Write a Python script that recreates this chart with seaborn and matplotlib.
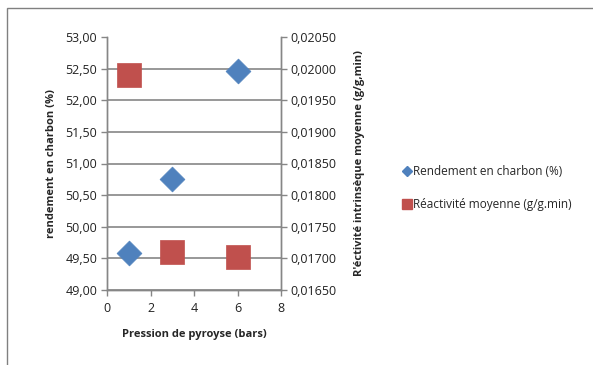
import matplotlib
matplotlib.use("Agg")
import matplotlib.pyplot as plt
import seaborn as sns
import pandas as pd
from matplotlib.ticker import FuncFormatter
from matplotlib.lines import Line2D

pression = [1, 3, 6]
rendement = [49.59, 50.75, 52.47]
reactivite = [0.01990, 0.01710, 0.01702]
xticks = [0, 2, 4, 6, 8]
yticks_left = [49.0, 49.5, 50.0, 50.5, 51.0, 51.5, 52.0, 52.5, 53.0]
yticks_right = [0.0165, 0.0170, 0.0175, 0.0180, 0.0185, 0.0190, 0.0195, 0.0200, 0.0205]

sns.set_theme(style="white")
plt.rcParams['font.family'] = ['Open Sans', 'DejaVu Sans']

df = pd.DataFrame({"pression": pression, "rendement": rendement, "reactivite": reactivite})

fig = plt.figure(figsize=(5.93, 3.65), dpi=100)
fig.patches.append(plt.Rectangle((7/593, -0.1), 1.0, 1 - 8/365 + 0.1, transform=fig.transFigure,
                                 fill=False, edgecolor="#808080", linewidth=1.0))
ax = fig.add_axes([107/593, 1-290/365, (281-107)/593, (290-37)/365])
ax2 = ax.twinx()

blue = "#4F81BD"
red = "#C0504D"
gcol = "#868686"

sns.scatterplot(data=df, x="pression", y="rendement", ax=ax, marker="D", s=160, color=blue,
                edgecolor=blue, linewidth=0.5, zorder=3)
sns.scatterplot(data=df, x="pression", y="reactivite", ax=ax2, marker="s", s=280, color=red,
                edgecolor=red, linewidth=0.5, zorder=3)

ax.set_xlim(0, 8)
ax.set_ylim(49, 53)
ax2.set_ylim(0.0165, 0.0205)
ax.set_xticks(xticks)
ax.set_yticks(yticks_left)
ax2.set_yticks(yticks_right)
ax.yaxis.set_major_formatter(FuncFormatter(lambda v, p: f"{v:.2f}".replace(".", ",")))
ax2.yaxis.set_major_formatter(FuncFormatter(lambda v, p: f"{v:.5f}".replace(".", ",")))

ax.grid(axis="y", color=gcol, linewidth=1.2)
ax.set_axisbelow(True)
ax.yaxis.get_major_ticks()[-1].gridline.set_visible(False)
for a in (ax, ax2):
    a.spines["top"].set_visible(False)
    for side in ("left", "right", "bottom"):
        a.spines[side].set_color(gcol)
        a.spines[side].set_linewidth(1.0)
    a.tick_params(axis="both", direction="out", length=4, width=1, color=gcol,
                  labelsize=9, labelcolor="#222222", pad=3)
ax.tick_params(axis="y", left=True)
ax.tick_params(axis="x", bottom=True, pad=5)
ax2.tick_params(axis="y", right=True)

ax.set_xlabel("Pression de pyroyse (bars)", fontsize=8, fontweight="bold", labelpad=10)
ax.set_ylabel("rendement en charbon (%)", fontsize=8, fontweight="bold", labelpad=6)
ax2.set_ylabel("R'éctivité intrinsèque moyenne (g/g,min)", fontsize=8, fontweight="bold", labelpad=12)

handles = [
    Line2D([], [], marker="D", linestyle="none", color=blue, markersize=5),
    Line2D([], [], marker="s", linestyle="none", color=red, markersize=7),
]
fig.legend(handles, ["Rendement en charbon (%)", "Réactivité moyenne (g/g.min)"],
           loc="center left", bbox_to_anchor=(396/593, 1-188/365), frameon=False,
           fontsize=8.5, handletextpad=0.0, labelspacing=1.7, handlelength=0.9, borderpad=0)

fig.savefig("out.png", dpi=100)
